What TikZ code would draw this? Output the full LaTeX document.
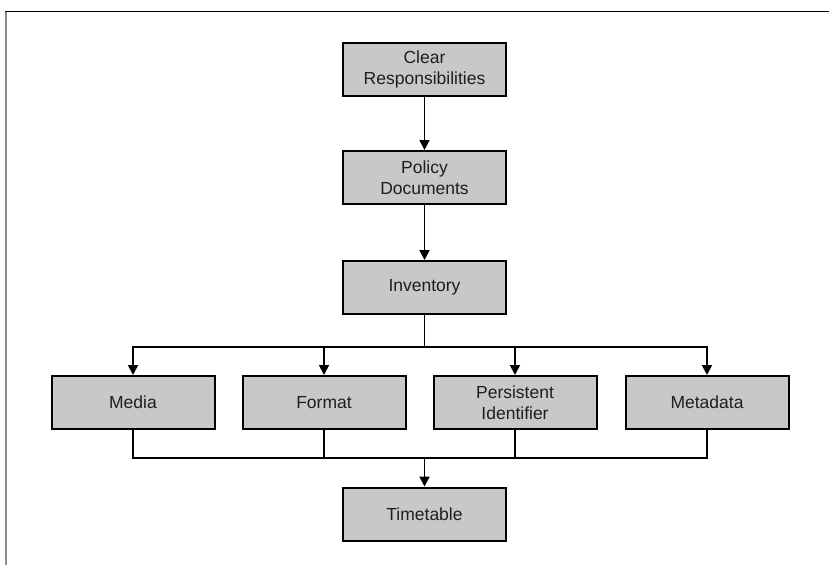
\documentclass[tikz,border=0pt]{standalone}
\usepackage{fontspec}
\setmainfont{Liberation Sans}
\usepackage{tikz}
\usetikzlibrary{positioning,arrows.meta}
\definecolor{boxgray}{RGB}{200,200,200}
\definecolor{framegray}{RGB}{140,140,140}
\definecolor{textgray}{RGB}{30,30,30}

\begin{document}
\begin{tikzpicture}[
      x=1pt, y=-1pt,
      node distance = 53pt and 27pt,
      box/.style = {draw=black, line width=2pt, fill=boxgray,
                    minimum width=163pt, minimum height=53pt,
                    align=center, text=textgray,
                    font=\fontsize{17.5}{21.5}\selectfont},
      line/.style = {line width=1.8pt, black},
      arr/.style = {line, -{Triangle[length=10pt,width=10pt]}},
    ]
    \useasboundingbox (0,0) rectangle (829,565);
    \draw[framegray, line width=2pt] (5.7,11.5) -- (5.7,565);
    \draw[line width=1.2pt] (5,11.5) -- (829,11.5);

    \node[box] (clear) at (424.5,69.5) {Clear\\Responsibilities};
    \node[box, below=of clear] (policy) {Policy\\Documents};
    \node[box, below=55pt of policy] (inv) {Inventory};
    \node[box] (media) at (133,402.5) {Media};
    \node[box] (format) at (324,402.5) {Format};
    \node[box] (pid) at (515,402.5) {Persistent\\Identifier};
    \node[box] (meta) at (707,402.5) {Metadata};
    \node[box] (time) at (424.5,514) {Timetable};

    \coordinate (split) at (inv.south |- 0,347);
    \coordinate (join) at (inv.south |- 0,458);

    \draw[arr] (clear) -- (policy);
    \draw[arr] (policy) -- (inv);
    \draw[line] (inv.south) -- (split);
    \draw[arr] (split) -| (media.north);
    \draw[arr] (split) -| (format.north);
    \draw[arr] (split) -| (pid.north);
    \draw[arr] (split) -| (meta.north);
    \draw[line] (media.south) |- (join);
    \draw[line] (format.south) |- (join);
    \draw[line] (pid.south) |- (join);
    \draw[line] (meta.south) |- (join);
    \draw[arr] (join) -- (time);
  \end{tikzpicture}
\end{document}
